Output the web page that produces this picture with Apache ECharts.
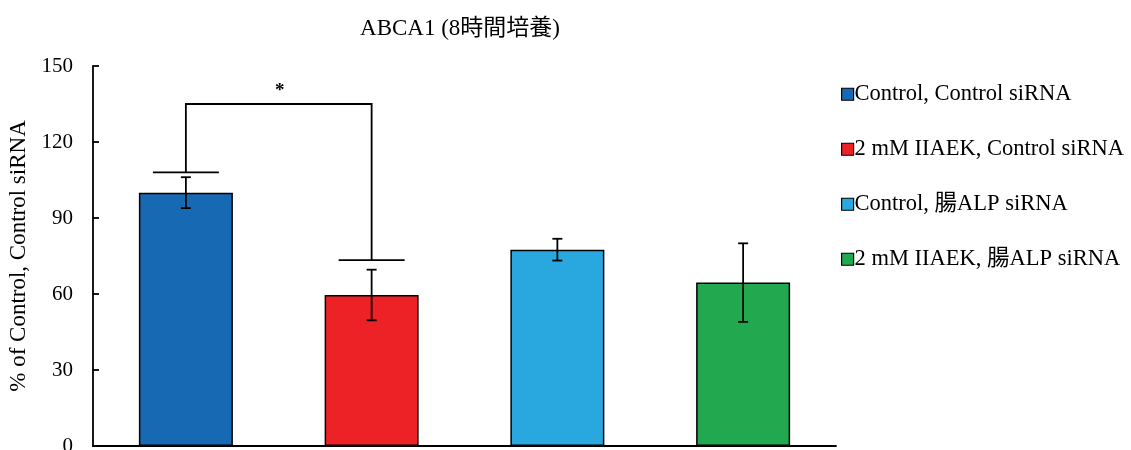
<!DOCTYPE html>
<html>
<head>
<meta charset="utf-8">
<script src="https://cdn.jsdelivr.net/npm/echarts@6/dist/echarts.min.js"></script>
<style>html,body{margin:0;padding:0;background:#fff}#c{width:1131px;height:450px}</style>
</head>
<body>
<div id="c"></div>
<script>
const titleText = 'ABCA1 (8時間培養)';
const yAxisName = '% of Control, Control siRNA';
const categories = ['Control, Control siRNA', '2 mM IIAEK, Control siRNA', 'Control, 腸ALP siRNA', '2 mM IIAEK, 腸ALP siRNA'];
const means = [100, 59.6, 77.5, 64.5];
const errors = [6.1, 10.0, 4.3, 15.5];
const colors = ['#1769b3', '#ed2226', '#29a8e0', '#22a84f'];
// significance bracket: [left category, right category, top value, left foot value, right foot value, label]
const bracket = [0, 1, 135, 108, 73.4, '*'];

const FONT = '"Liberation Serif", "Noto Sans CJK JP", serif';

const barSeries = categories.map((name, i) => ({
  name: name,
  type: 'bar',
  barWidth: 94,
  barGap: '-100%',
  data: categories.map((_, j) => (j === i ? means[i] : null)),
  itemStyle: { color: colors[i], borderColor: '#000', borderWidth: 1.5 },
  emphasis: { disabled: true },
  z: 2
}));

const errorData = means.map((m, i) => [i, m - errors[i], m + errors[i]]);

const option = {
  animation: false,
  backgroundColor: '#fff',
  title: {
    text: titleText,
    left: 455,
    textAlign: 'center',
    top: 12,
    textStyle: { fontFamily: FONT, fontSize: 23, fontWeight: 'normal', color: '#000' }
  },
  legend: {
    orient: 'vertical',
    left: 836,
    top: 78,
    itemGap: 32.5,
    itemWidth: 12,
    itemHeight: 12,
    icon: 'rect',
    data: categories,
    itemStyle: { borderColor: '#000', borderWidth: 1.2 },
    textStyle: { fontFamily: FONT, fontSize: 22.5, lineHeight: 20, color: '#000', padding: [0, 0, 0, -4] }
  },
  grid: { left: 93, right: 295, top: 66, bottom: 4, containLabel: false, outerBoundsMode: 'none' },
  xAxis: {
    type: 'category',
    data: categories,
    axisLine: { lineStyle: { color: '#000', width: 1.8 } },
    axisTick: { show: false },
    axisLabel: { show: false }
  },
  yAxis: {
    type: 'value',
    min: 0, max: 150, interval: 30,
    name: yAxisName,
    nameLocation: 'middle',
    nameGap: 61,
    nameTextStyle: { fontFamily: FONT, fontSize: 23, color: '#000' },
    axisLine: { show: true, lineStyle: { color: '#000', width: 1.8 } },
    axisTick: { show: true, inside: true, length: 6, lineStyle: { color: '#000', width: 1.8 } },
    axisLabel: { margin: 20, fontFamily: FONT, fontSize: 21, color: '#000' },
    splitLine: { show: false }
  },
  series: barSeries.concat([
    {
      type: 'custom',
      name: 'err',
      z: 5,
      silent: true,
      data: errorData,
      renderItem: function (params, api) {
        const x = api.value(0);
        const lo = api.coord([x, api.value(1)]);
        const hi = api.coord([x, api.value(2)]);
        const hw = 5;
        const st = { stroke: '#000', lineWidth: 1.8 };
        return {
          type: 'group',
          children: [
            { type: 'line', shape: { x1: hi[0], y1: hi[1], x2: lo[0], y2: lo[1] }, style: st },
            { type: 'line', shape: { x1: hi[0] - hw, y1: hi[1], x2: hi[0] + hw, y2: hi[1] }, style: st },
            { type: 'line', shape: { x1: lo[0] - hw, y1: lo[1], x2: lo[0] + hw, y2: lo[1] }, style: st }
          ]
        };
      }
    },
    {
      type: 'custom',
      name: 'sig',
      z: 6,
      silent: true,
      data: [bracket.slice(0, 5)],
      renderItem: function (params, api) {
        const a = api.coord([api.value(0), api.value(2)]);
        const b = api.coord([api.value(1), api.value(2)]);
        const lf = api.coord([api.value(0), api.value(3)]);
        const rf = api.coord([api.value(1), api.value(4)]);
        const fw = 33;
        const st = { stroke: '#000', lineWidth: 1.8 };
        return {
          type: 'group',
          children: [
            { type: 'polyline', shape: { points: [[lf[0], lf[1]], [a[0], a[1]], [b[0], b[1]], [rf[0], rf[1]]] }, style: Object.assign({ fill: null }, st) },
            { type: 'line', shape: { x1: lf[0] - fw, y1: lf[1], x2: lf[0] + fw, y2: lf[1] }, style: st },
            { type: 'line', shape: { x1: rf[0] - fw, y1: rf[1], x2: rf[0] + fw, y2: rf[1] }, style: st },
            { type: 'text', x: (a[0] + b[0]) / 2 + 1, y: a[1] - 13, style: { text: bracket[5], font: 'bold 19px "Liberation Serif", serif', fill: '#000', align: 'center', verticalAlign: 'middle' } }
          ]
        };
      }
    }
  ])
};

echarts.init(document.getElementById('c')).setOption(option);
</script>
</body>
</html>
